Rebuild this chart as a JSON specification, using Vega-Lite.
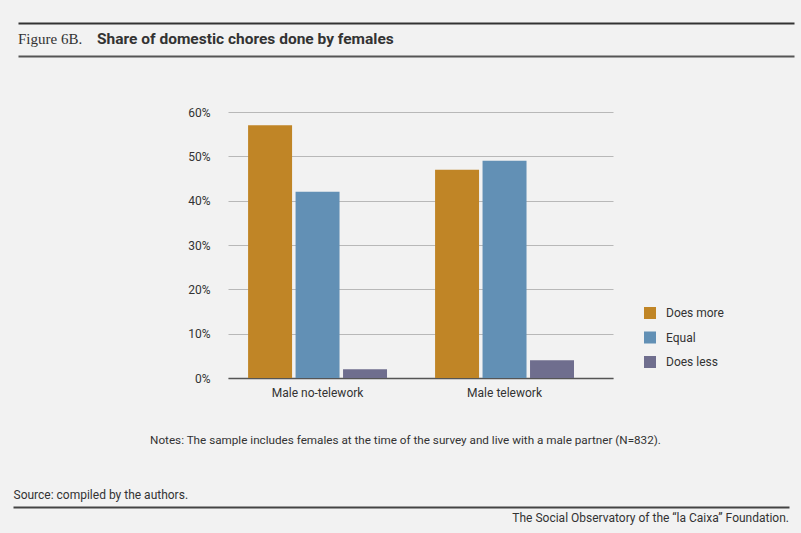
{
  "$schema": "https://vega.github.io/schema/vega-lite/v6.json",
  "background": "#f2f2f2",
  "padding": {"left": 13, "top": 23, "right": 6, "bottom": 6},
  "autosize": {"type": "pad"},
  "bounds": "full",
  "spacing": 42,
  "config": {"view": {"stroke": null}, "font": "Roboto"},
  "resolve": {"legend": {"color": "independent"}},
  "vconcat": [
    {
      "width": 566,
      "height": 41,
      "data": {"values": [{"fig": "Figure 6B.", "title": "Share of domestic chores done by females"}]},
      "layer": [
        {
          "mark": {"type": "text", "align": "left", "baseline": "alphabetic", "dy": 0.5, "font": "Liberation Serif", "fontSize": 15, "color": "#333333"},
          "encoding": {
            "text": {"field": "fig"},
            "x": {"datum": 0, "type": "quantitative", "scale": {"domain": [0, 1], "range": [-210, 566], "nice": false, "zero": false},
              "axis": {"orient": "top", "domain": true, "domainColor": "#333333", "domainWidth": 2.2, "labels": false, "ticks": false, "grid": false, "title": null}},
            "y": {"datum": 0.5, "type": "quantitative", "scale": {"domain": [0, 1], "nice": false, "zero": false}, "axis": null}
          }
        },
        {
          "mark": {"type": "text", "align": "left", "baseline": "alphabetic", "dx": 79, "dy": 0.5, "font": "Roboto", "fontWeight": "bold", "fontSize": 15.5, "color": "#333333"},
          "encoding": {
            "text": {"field": "title"},
            "x": {"datum": 0, "type": "quantitative",
              "axis": {"orient": "bottom", "offset": -8, "domain": true, "domainColor": "#555555", "domainWidth": 2.2, "labels": false, "ticks": false, "grid": false, "title": null}},
            "y": {"datum": 0.5, "type": "quantitative"}
          }
        }
      ],
      "resolve": {"axis": {"x": "independent"}}
    },
    {
      "width": 385,
      "height": 266,
      "data": {"values": [
        {"group": "Male no-telework", "category": "Does more", "share": 0.57},
        {"group": "Male no-telework", "category": "Equal", "share": 0.42},
        {"group": "Male no-telework", "category": "Does less", "share": 0.02},
        {"group": "Male telework", "category": "Does more", "share": 0.47},
        {"group": "Male telework", "category": "Equal", "share": 0.49},
        {"group": "Male telework", "category": "Does less", "share": 0.04}
      ]},
      "mark": {"type": "bar"},
      "encoding": {
        "x": {"field": "group", "type": "nominal", "sort": ["Male no-telework", "Male telework"],
          "scale": {"paddingInner": 0.257, "paddingOuter": 0.158, "align": 0.34},
          "axis": {"title": "Notes: The sample includes females at the time of the survey and live with a male partner (N=832).",
            "labelAngle": 0, "labelFont": "Roboto", "labelFontSize": 12, "labelColor": "#333333", "labelPadding": 9,
            "ticks": false, "domainColor": "#555555", "domainWidth": 1.5,
            "titleFont": "Roboto", "titleFontSize": 11.7, "titleFontWeight": "normal", "titleColor": "#333333",
            "titlePadding": 36, "titleX": 177}},
        "xOffset": {"field": "category", "type": "nominal", "sort": ["Does more", "Equal", "Does less"], "scale": {"paddingInner": 0.0737}},
        "y": {"field": "share", "type": "quantitative", "scale": {"domain": [0, 0.6], "nice": false},
          "axis": {"format": ".0%", "values": [0, 0.1, 0.2, 0.3, 0.4, 0.5, 0.6], "title": null, "domain": false, "ticks": false,
            "labelPadding": 18, "labelFont": "Roboto", "labelFontSize": 12, "labelColor": "#333333", "gridColor": "#b8b8b8"}},
        "color": {"field": "category", "type": "nominal", "sort": ["Does more", "Equal", "Does less"],
          "scale": {"domain": ["Does more", "Equal", "Does less"], "range": ["#C08526", "#6290B5", "#6F6E8E"]},
          "legend": {"title": null, "orient": "none", "legendX": 416, "legendY": 195, "symbolType": "square", "symbolSize": 144,
            "symbolStrokeWidth": 0, "symbolOpacity": 1, "labelFont": "Roboto", "labelFontSize": 12, "labelColor": "#333333",
            "rowPadding": 12.5, "labelOffset": 10, "padding": 0}}
      }
    },
    {
      "width": 561,
      "height": 20,
      "data": {"values": [{"credit": "The Social Observatory of the “la Caixa” Foundation."}]},
      "mark": {"type": "text", "align": "right", "font": "Roboto", "fontSize": 12, "dy": 1, "color": "#333333"},
      "encoding": {
        "text": {"field": "credit"},
        "x": {"datum": 1, "type": "quantitative", "scale": {"domain": [0, 1], "range": [-215, 561], "nice": false, "zero": false},
          "axis": {"orient": "top", "domain": true, "domainColor": "#444444", "domainWidth": 2.2, "labels": false, "ticks": false, "grid": false,
            "title": "Source: compiled by the authors.", "titleAnchor": "start", "titleAlign": "left", "titleFont": "Roboto",
            "titleFontSize": 12, "titleFontWeight": "normal", "titleColor": "#333333", "titlePadding": 6}},
        "y": {"datum": 0.5, "type": "quantitative", "scale": {"domain": [0, 1], "nice": false, "zero": false}, "axis": null}
      }
    }
  ]
}
